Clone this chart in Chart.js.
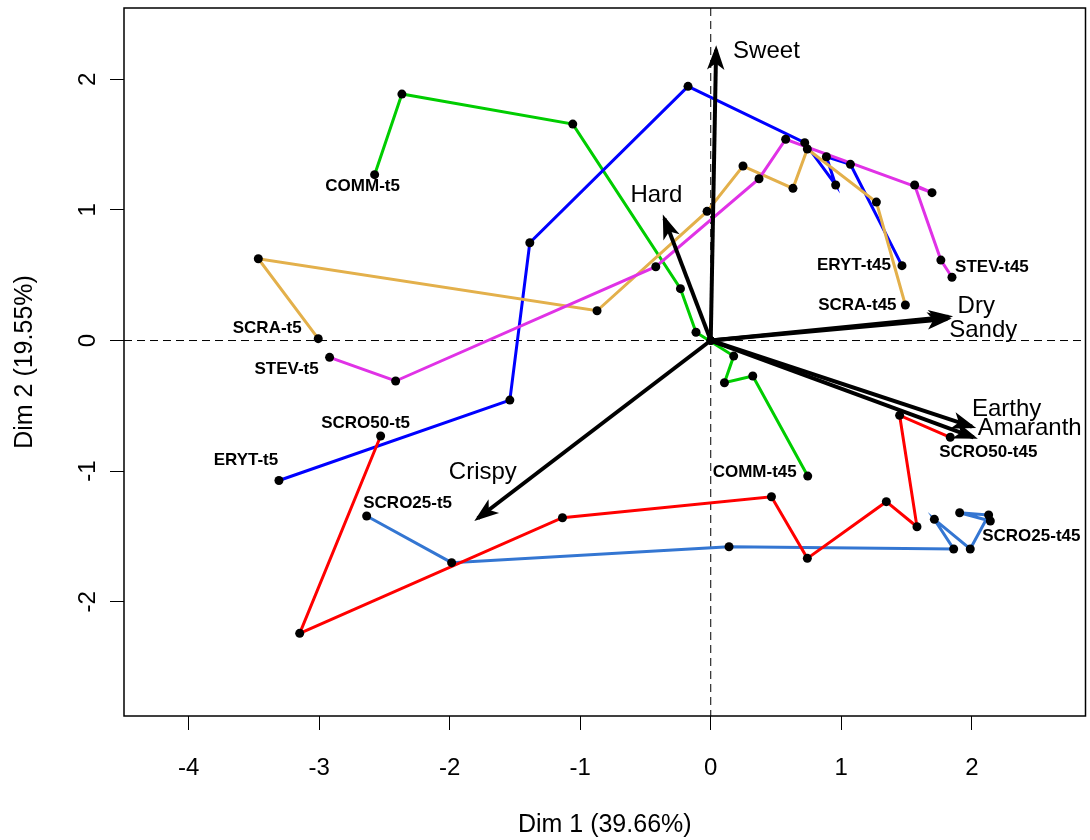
<!DOCTYPE html>
<html>
<head>
<meta charset="utf-8">
<script src="https://cdn.jsdelivr.net/npm/chart.js@4.4.1/dist/chart.umd.min.js"></script>
<style>
  html, body { margin: 0; padding: 0; background: #fff; }
  #wrap { width: 1090px; height: 840px; }
</style>
</head>
<body>
<div id="wrap"><canvas id="biplot" width="1090" height="840"></canvas></div>
<script>
// tick labels
const dim1Ticks = [-4, -3, -2, -1, 0, 1, 2];
const dim2Ticks = [-2, -1, 0, 1, 2];

// product trajectories, t5 first, t45 last
const products = ['COMM', 'ERYT', 'SCRA', 'SCRO25', 'SCRO50', 'STEV'];

const commX = [-2.575, -2.366, -1.057, -0.232, -0.113, 0.176, 0.105, 0.322, 0.743];
const commY = [1.270, 1.887, 1.657, 0.397, 0.063, -0.119, -0.323, -0.272, -1.038];

const erytX = [-3.308, -1.539, -1.386, -0.174, 0.720, 0.957, 0.886, 1.070, 1.465];
const erytY = [-1.072, -0.456, 0.749, 1.946, 1.515, 1.191, 1.407, 1.349, 0.573];

const scraX = [-3.007, -3.466, -0.871, -0.028, 0.247, 0.630, 0.740, 1.269, 1.491];
const scraY = [0.014, 0.626, 0.228, 0.989, 1.336, 1.165, 1.466, 1.060, 0.272];

const scro25X = [-2.636, -1.985, 0.140, 1.861, 1.713, 1.988, 2.129, 1.907, 2.142];
const scro25Y = [-1.344, -1.701, -1.579, -1.596, -1.369, -1.596, -1.336, -1.319, -1.382];

const scro50X = [-2.529, -3.149, -1.136, 0.465, 0.740, 1.345, 1.580, 1.447, 1.835];
const scro50Y = [-0.731, -2.242, -1.357, -1.196, -1.668, -1.234, -1.426, -0.573, -0.741];

const stevX = [-2.920, -2.414, -0.421, 0.370, 0.574, 1.695, 1.562, 1.763, 1.848];
const stevY = [-0.129, -0.310, 0.565, 1.239, 1.541, 1.132, 1.191, 0.616, 0.484];

// sensory attribute arrows
const attributes = ['Sweet', 'Hard', 'Dry', 'Sandy', 'Earthy', 'Amaranth', 'Crispy'];
const attrX = [0.041, -0.355, 1.822, 1.812, 2.001, 2.014, -1.784];
const attrY = [2.227, 0.933, 0.183, 0.165, -0.660, -0.741, -1.361];

const trajX = [commX, erytX, scraX, scro25X, scro50X, stevX];
const trajY = [commY, erytY, scraY, scro25Y, scro50Y, stevY];
const trajColors = ['#00cd00', '#0000ff', '#e3b04b', '#3476d2', '#ff0000', '#e032e6'];

// label placement (pixels from the point) for first / last sample
const startOffsets = [[-12, 12], [-33, -20], [-51, -10], [41, -13], [-15, -13], [-43, 12]];
const endOffsets = [[-53, -4], [-48, 0], [-48, 0], [41, 15], [38, 15], [40, -10]];
// arrow label placement: [dx, dy, align]
const attrLabelPos = [[17, 2, 'left'], [-8, -23, 'center'], [9, -10, 'left'], [2, 11, 'left'],
                      [0, -17, 'left'], [4, -9, 'left'], [5, -46, 'center']];

const toPts = (xs, ys) => xs.map((v, i) => ({ x: v, y: ys[i] }));

const datasets = [];
products.forEach((p, i) => {
  datasets.push({
    label: p,
    data: toPts(trajX[i], trajY[i]),
    showLine: true,
    borderColor: trajColors[i],
    borderWidth: 3,
    pointRadius: 0,
    order: 20 - i
  });
});
attributes.forEach((a, i) => {
  datasets.push({
    label: a,
    data: [{ x: 0, y: 0 }, { x: attrX[i], y: attrY[i] }],
    showLine: true,
    borderColor: '#000',
    borderWidth: 4,
    pointRadius: [4, 0],
    pointBackgroundColor: '#000',
    pointBorderWidth: 0,
    order: 5
  });
});
datasets.push({
  label: 'samples',
  data: products.flatMap((p, i) => toPts(trajX[i], trajY[i])),
  pointRadius: 4.5,
  pointBackgroundColor: '#000',
  pointBorderWidth: 0,
  order: 0
});

const biplotPlugin = {
  id: 'biplot',
  beforeDatasetsDraw(chart) {
    const { ctx, chartArea: a, scales: { x, y } } = chart;
    const x0 = x.getPixelForValue(0), y0 = y.getPixelForValue(0);
    ctx.save();
    ctx.strokeStyle = '#000';
    ctx.lineWidth = 1;
    ctx.setLineDash([8, 5]);
    ctx.beginPath();
    ctx.moveTo(a.left, y0); ctx.lineTo(a.right, y0);
    ctx.moveTo(x0, a.top); ctx.lineTo(x0, a.bottom);
    ctx.stroke();
    ctx.restore();
  },
  afterDatasetsDraw(chart) {
    const { ctx, chartArea: a, scales: { x, y } } = chart;
    const x0 = x.getPixelForValue(0), y0 = y.getPixelForValue(0);
    ctx.save();

    // arrow heads (filled, as the thick R arrows look)
    ctx.strokeStyle = '#000';
    ctx.fillStyle = '#000';
    ctx.lineWidth = 3;
    ctx.lineJoin = 'miter';
    attributes.forEach((lab, i) => {
      const tx = x.getPixelForValue(attrX[i]), ty = y.getPixelForValue(attrY[i]);
      const ang = Math.atan2(ty - y0, tx - x0);
      const len = 17, spread = 0.34;
      ctx.beginPath();
      ctx.moveTo(tx - len * Math.cos(ang - spread), ty - len * Math.sin(ang - spread));
      ctx.lineTo(tx, ty);
      ctx.lineTo(tx - len * Math.cos(ang + spread), ty - len * Math.sin(ang + spread));
      ctx.lineTo(tx - 0.7 * len * Math.cos(ang), ty - 0.7 * len * Math.sin(ang));
      ctx.closePath();
      ctx.fill();
      ctx.stroke();
    });

    // arrow labels
    ctx.font = '24px "Liberation Sans", Arial, sans-serif';
    ctx.textBaseline = 'middle';
    attributes.forEach((lab, i) => {
      const tx = x.getPixelForValue(attrX[i]), ty = y.getPixelForValue(attrY[i]);
      const [dx, dy, al] = attrLabelPos[i];
      ctx.textAlign = al;
      ctx.fillText(lab, tx + dx, ty + dy);
    });

    // sample labels
    ctx.font = 'bold 17px "Liberation Sans", Arial, sans-serif';
    ctx.textAlign = 'center';
    products.forEach((p, i) => {
      const n = trajX[i].length - 1;
      const sx = x.getPixelForValue(trajX[i][0]), sy = y.getPixelForValue(trajY[i][0]);
      ctx.fillText(p + '-t5', sx + startOffsets[i][0], sy + startOffsets[i][1]);
      const ex = x.getPixelForValue(trajX[i][n]), ey = y.getPixelForValue(trajY[i][n]);
      ctx.fillText(p + '-t45', ex + endOffsets[i][0], ey + endOffsets[i][1]);
    });

    // y tick labels, rotated like base R
    ctx.font = '24px "Liberation Sans", Arial, sans-serif';
    dim2Ticks.forEach(v => {
      ctx.save();
      ctx.translate(a.left - 36, y.getPixelForValue(v));
      ctx.rotate(-Math.PI / 2);
      ctx.textAlign = 'center';
      ctx.fillText(String(v), 0, 0);
      ctx.restore();
    });

    // plot frame
    ctx.lineWidth = 1.5;
    ctx.strokeRect(a.left, a.top, a.width, a.height);
    ctx.restore();
  }
};

Chart.defaults.font.family = '"Liberation Sans", Arial, sans-serif';
Chart.defaults.color = '#000';

const biplot = new Chart(document.getElementById('biplot'), {
  type: 'scatter',
  data: { datasets: datasets },
  options: {
    responsive: false,
    animation: false,
    events: [],
    layout: { padding: { left: 0, top: 8, right: 4, bottom: 0 } },
    plugins: { legend: { display: false }, tooltip: { enabled: false } },
    scales: {
      x: {
        type: 'linear',
        min: -4.495,
        max: 2.871,
        afterBuildTicks: s => { s.ticks = dim1Ticks.map(v => ({ value: v })); },
        afterFit: s => { s.height = 124; },
        grid: { drawOnChartArea: false, drawTicks: true, tickLength: 14, color: '#000' },
        border: { display: false },
        ticks: { font: { size: 24 }, color: '#000', padding: 24, maxRotation: 0, autoSkip: false },
        title: { display: true, text: 'Dim 1 (39.66%)', font: { size: 25 }, color: '#000', padding: { top: 0, bottom: 0 } }
      },
      y: {
        type: 'linear',
        min: -2.875,
        max: 2.546,
        afterBuildTicks: s => { s.ticks = dim2Ticks.map(v => ({ value: v })); },
        afterFit: s => { s.width = 124; },
        grid: { drawOnChartArea: false, drawTicks: true, tickLength: 14, color: '#000' },
        border: { display: false },
        ticks: { display: false },
        title: { display: true, text: 'Dim 2 (19.55%)', font: { size: 25 }, color: '#000', padding: { top: 10, bottom: 0 } }
      }
    }
  },
  plugins: [biplotPlugin]
});
</script>
</body>
</html>
